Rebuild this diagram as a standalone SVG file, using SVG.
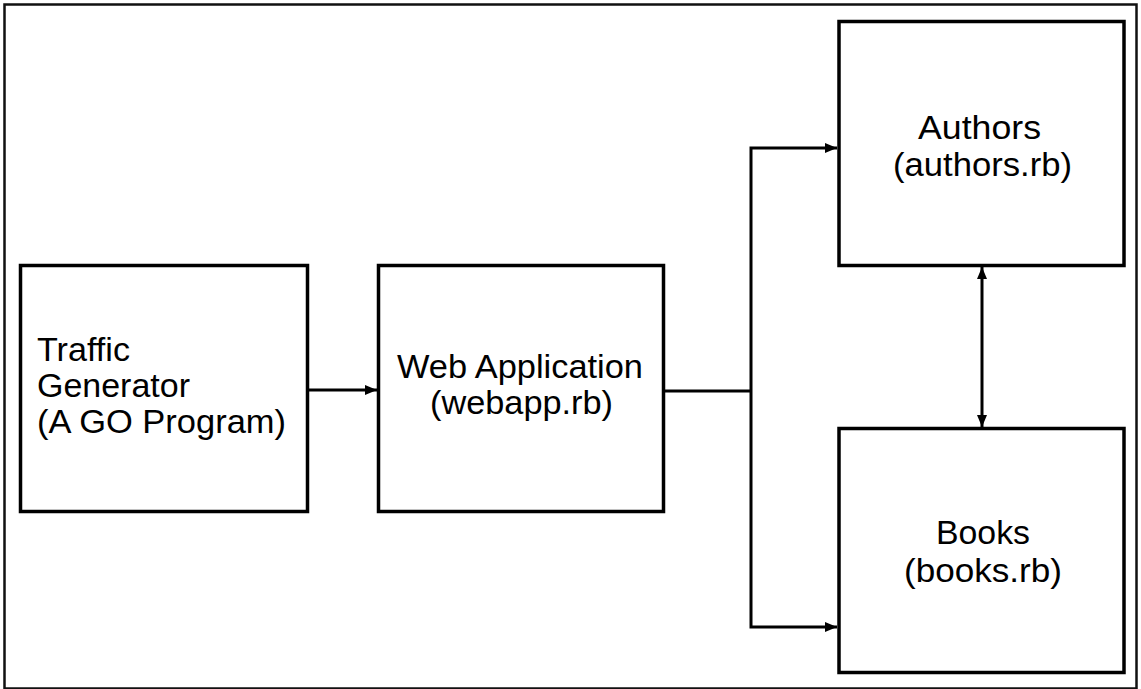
<svg xmlns="http://www.w3.org/2000/svg" width="1141" height="689" viewBox="0 0 1141 689">
  <style>
    .box { fill: #fff; stroke: #000; stroke-width: 3.5; }
    .frame { fill: #fff; stroke: #111; stroke-width: 2.5; }
    .lbl { font-family: "Liberation Sans", Arial, sans-serif; font-size: 34px; fill: #000; }
    .conn { fill: none; stroke: #000; stroke-width: 3; }
  </style>
  <defs>
    <marker id="arr" markerUnits="userSpaceOnUse" markerWidth="14" markerHeight="14" viewBox="0 0 14 14" refX="12" refY="7" orient="auto-start-reverse">
      <path d="M0,2 L12,7 L0,12 Z" fill="#000"/>
    </marker>
  </defs>
  <rect class="frame" x="4.5" y="4.5" width="1132" height="684"/>
  <g id="traffic">
    <rect class="box" x="20.5" y="265.5" width="287" height="246"/>
    <text class="lbl" x="37" y="361" textLength="93" lengthAdjust="spacingAndGlyphs">Traffic</text>
    <text class="lbl" x="37" y="397" textLength="153" lengthAdjust="spacingAndGlyphs">Generator</text>
    <text class="lbl" x="37" y="433" textLength="249" lengthAdjust="spacingAndGlyphs">(A GO Program)</text>
  </g>
  <g id="webapp">
    <rect class="box" x="378.5" y="265.5" width="285" height="246"/>
    <text class="lbl" x="397" y="378" textLength="246" lengthAdjust="spacingAndGlyphs">Web Application</text>
    <text class="lbl" x="430" y="414" textLength="183" lengthAdjust="spacingAndGlyphs">(webapp.rb)</text>
  </g>
  <g id="authors">
    <rect class="box" x="839" y="21.5" width="285" height="244"/>
    <text class="lbl" x="918" y="139" textLength="123" lengthAdjust="spacingAndGlyphs">Authors</text>
    <text class="lbl" x="893" y="176" textLength="179" lengthAdjust="spacingAndGlyphs">(authors.rb)</text>
  </g>
  <g id="books">
    <rect class="box" x="839" y="428.5" width="285" height="244"/>
    <text class="lbl" x="936" y="544" textLength="94" lengthAdjust="spacingAndGlyphs">Books</text>
    <text class="lbl" x="904" y="582" textLength="158" lengthAdjust="spacingAndGlyphs">(books.rb)</text>
  </g>
  <g id="connectors">
    <line class="conn" x1="309" y1="390" x2="377" y2="390" marker-end="url(#arr)"/>
    <line class="conn" x1="665" y1="391" x2="751" y2="391"/>
    <polyline class="conn" points="837,148 751,148 751,627 837,627" marker-start="url(#arr)" marker-end="url(#arr)"/>
    <line class="conn" x1="982" y1="267" x2="982" y2="427" marker-start="url(#arr)" marker-end="url(#arr)"/>
  </g>
</svg>
